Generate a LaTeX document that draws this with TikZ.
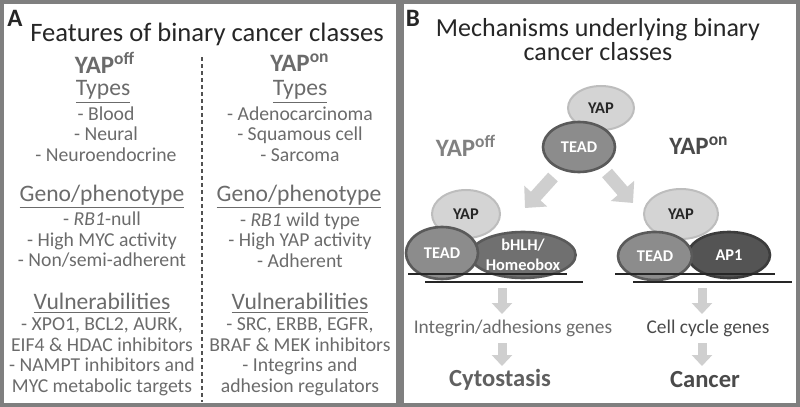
\documentclass[tikz,border=0pt]{standalone}
\usepackage{fontspec}
\setmainfont{Carlito}
\usetikzlibrary{shapes.geometric,arrows.meta}
\definecolor{framegray}{HTML}{7F7F7F}
\definecolor{titlegray}{HTML}{262626}
\definecolor{textgray}{HTML}{6B6B6B}
\definecolor{darkgray}{HTML}{4A4A4A}
\definecolor{arrowgray}{HTML}{CFCFCF}
\definecolor{yapfill}{HTML}{D4D4D4}
\definecolor{yapline}{HTML}{BDBDBD}
\definecolor{teadfill}{HTML}{8C8C8C}
\definecolor{teadline}{HTML}{5A5A5A}
\definecolor{hlhfill}{HTML}{707070}
\definecolor{apfill}{HTML}{545454}
\tikzstyle{panel} = [draw=framegray,line width=2pt]
\tikzstyle{letter} = [font=\fontsize{12.5}{14}\selectfont\bfseries,text=titlegray]
\tikzstyle{title} = [font=\fontsize{13.3}{12}\selectfont,text=titlegray,align=center]
\tikzstyle{yaphead} = [font=\fontsize{12.5}{14}\selectfont\bfseries,text=textgray]
\tikzstyle{head} = [font=\fontsize{11.8}{12}\selectfont,text=textgray]
\tikzstyle{item} = [font=\fontsize{9.85}{10.25}\selectfont,text=textgray,align=center,inner sep=0pt]
\tikzstyle{yap} = [ellipse,draw=yapline,fill=yapfill,line width=1pt,text=titlegray,font=\fontsize{8.2}{9}\selectfont\bfseries]
\tikzstyle{tead} = [ellipse,draw=teadline,fill=teadfill,line width=1.3pt,text=white,font=\fontsize{8.2}{9}\selectfont\bfseries]
\tikzstyle{bigarrow} = [draw=arrowgray,line width=6.5pt,-{Triangle[width=15pt,length=8pt]}]
\tikzstyle{downarrow} = [draw=arrowgray,line width=4.5pt,-{Triangle[width=10pt,length=5.5pt]}]
\tikzstyle{dna} = [draw=titlegray,line width=0.6pt]

\begin{document}
\begin{tikzpicture}[x=0.5pt,y=-0.5pt]
  \useasboundingbox (0,0) rectangle (800,407);
  \draw[panel] (2,2) rectangle (398,405);
  \draw[panel] (402,2) rectangle (798,405);

  % panel A
  \node[letter] (a) at (15,18) {A};
  \node[title] (atitle) at (207,34) {Features of binary cancer classes};
  \node[yaphead] (offA) at (105,63) {YAP\textsuperscript{off}};
  \node[yaphead] (onA) at (300,63) {YAP\textsuperscript{on}};
  \draw[draw=titlegray!80,line width=0.75pt,dash pattern=on 2pt off 1.5pt] (202,57) -- (202,402);

  \node[head] (typesL) at (103,92) {\underline{Types}};
  \node[item] (typesLi) at (106,134) {- Blood\\- Neural\\- Neuroendocrine};
  \node[head] (genoL) at (102,197) {\underline{Geno/phenotype}};
  \node[item] (genoLi) at (102,240) {- \textit{RB1}-null\\- High MYC activity\\- Non/semi-adherent};
  \node[head] (vulnL) at (102,303) {\underline{Vulnerabilities}};
  \node[item] (vulnLi) at (102,357) {- XPO1, BCL2, AURK,\\EIF4 \& HDAC inhibitors\\- NAMPT inhibitors and\\MYC metabolic targets};

  \node[head] (typesR) at (300,92) {\underline{Types}};
  \node[item] (typesRi) at (300,134) {- Adenocarcinoma\\- Squamous cell\\- Sarcoma};
  \node[head] (genoR) at (299,197) {\underline{Geno/phenotype}};
  \node[item] (genoRi) at (300,240) {- \textit{RB1} wild type\\- High YAP activity\\- Adherent};
  \node[head] (vulnR) at (300,303) {\underline{Vulnerabilities}};
  \node[item] (vulnRi) at (300,357) {- SRC, ERBB, EGFR,\\BRAF \& MEK inhibitors\\- Integrins and\\adhesion regulators};

  % panel B
  \node[letter] (b) at (413,18) {B};
  \node[title,font=\fontsize{13}{12}\selectfont] (btitle) at (598,40) {Mechanisms underlying binary\\cancer classes};
  \node[yaphead,text=textgray!85] (offB) at (466,146) {YAP\textsuperscript{off}};
  \node[yaphead,text=darkgray] (onB) at (699,146) {YAP\textsuperscript{on}};

  \node[yap,minimum width=33pt,minimum height=22pt] (yap0) at (601,108) {YAP};
  \node[tead,minimum width=36pt,minimum height=25pt] (tead0) at (579,147) {TEAD};

  \node[yap,minimum width=34pt,minimum height=24pt] (yapL) at (466,214) {YAP};
  \node[tead,fill=hlhfill,draw=teadline,minimum width=47pt,minimum height=23pt,align=center,
        inner sep=0pt,font=\fontsize{8.2}{10}\selectfont\bfseries] (hlh) at (523,255) {bHLH/\\Homeobox};
  \node[tead,minimum width=36pt,minimum height=26pt] (teadL) at (442,253) {TEAD};

  \node[yap,minimum width=37pt,minimum height=25pt] (yapR) at (681,214) {YAP};
  \node[tead,fill=apfill,draw=titlegray!90,minimum width=41pt,minimum height=23pt] (ap1) at (729,255) {AP1};
  \node[tead,minimum width=37pt,minimum height=24pt] (teadR) at (655,256) {TEAD};

  \draw[dna] (408,274) -- (567,274);
  \draw[dna] (425,282) -- (583,282);
  \draw[dna] (615,274) -- (775,274);
  \draw[dna] (633,282) -- (792,282);

  \coordinate (fromL) at (553,177);
  \coordinate (toL) at (525,208);
  \coordinate (fromR) at (607,173);
  \coordinate (toR) at (633,203);
  \draw[bigarrow] (fromL) -- (toL);
  \draw[bigarrow] (fromR) -- (toR);

  \node[item,font=\fontsize{9.7}{11}\selectfont] (genesL) at (513,328) {Integrin/adhesions genes};
  \node[item,font=\fontsize{9.7}{11}\selectfont,text=darkgray] (genesR) at (708,328) {Cell cycle genes};
  \node[title,font=\fontsize{12.3}{12}\selectfont\bfseries,text=textgray!90!black] (cyto) at (500,380) {Cytostasis};
  \node[title,font=\fontsize{12.3}{12}\selectfont\bfseries,text=darkgray] (cancer) at (705,380) {Cancer};

  \coordinate (dnaL) at (502,288);
  \coordinate (dnaR) at (702,288);
  \draw[downarrow] (dnaL) -- (502,314);
  \draw[downarrow] (dnaR) -- (702,314);
  \draw[downarrow] (502,343) -- (502,366);
  \draw[downarrow] (702,343) -- (702,366);
\end{tikzpicture}
\end{document}
